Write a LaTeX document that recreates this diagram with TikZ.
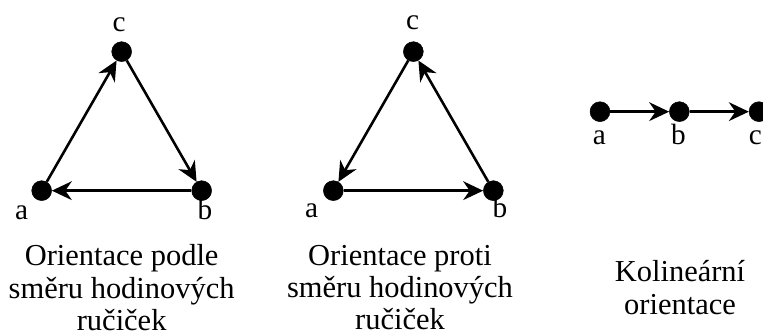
\documentclass[tikz,border=0pt]{standalone}
\usepackage{fontspec}
\setmainfont{Liberation Serif}
\usetikzlibrary{arrows.meta}
\usetikzlibrary{positioning}

\begin{document}
\begin{tikzpicture}[
  dot/.style={draw,circle,fill=black,inner sep=0pt,minimum size=17pt},
  lbl/.style={inner sep=0pt,anchor=base,font=\fontsize{25}{26}\selectfont},
  caption/.style={align=center,inner sep=0pt,font=\fontsize{26}{27.5}\selectfont},
  arc/.style={line width=2.2pt,-{Stealth[length=17pt,width=16pt,inset=5.5pt]}}]
\useasboundingbox (0,0) rectangle (22.89,10.08);
% po smeru hodinovych rucicek
\node[dot] (a1) at (1.25,4.36) {};
\node[dot] (b1) at (6.05,4.36) {};
\node[dot] (c1) at (3.65,8.53) {};
\node[lbl] (la1) at (0.65,3.48) {a};
\node[lbl] (lb1) at (6.15,3.48) {b};
\node[lbl] (lc1) at (3.57,9.12) {c};
\draw[arc] (a1) -- (c1);
\draw[arc] (c1) -- (b1);
\draw[arc] (b1) -- (a1);
\node[caption] (t1) at (3.65,1.45) {Orientace podle\\směru hodinových\\ručiček};
% proti smeru
\node[dot] (a2) at (10.0,4.36) {};
\node[dot] (b2) at (14.8,4.36) {};
\node[dot] (c2) at (12.4,8.53) {};
\node[lbl] (la2) at (9.35,3.55) {a};
\node[lbl] (lb2) at (15.0,3.55) {b};
\node[lbl] (lc2) at (12.38,9.18) {c};
\draw[arc] (c2) -- (a2);
\draw[arc] (a2) -- (b2);
\draw[arc] (b2) -- (c2);
\node[caption] (t2) at (12.0,1.45) {Orientace proti\\směru hodinových\\ručiček};
% kolinearni
\node[dot] (a3) at (18.0,6.73) {};
\node[dot] (b3) at (20.38,6.73) {};
\node[dot] (c3) at (22.77,6.73) {};
\node[lbl] (la3) at (17.98,5.73) {a};
\node[lbl] (lb3) at (20.35,5.73) {b};
\node[lbl] (lc3) at (22.66,5.73) {c};
\draw[arc] (a3) -- (b3);
\draw[arc] (b3) -- (c3);
\node[caption] (t3) at (20.4,1.45) {Kolineární\\orientace};
\end{tikzpicture}
\end{document}
